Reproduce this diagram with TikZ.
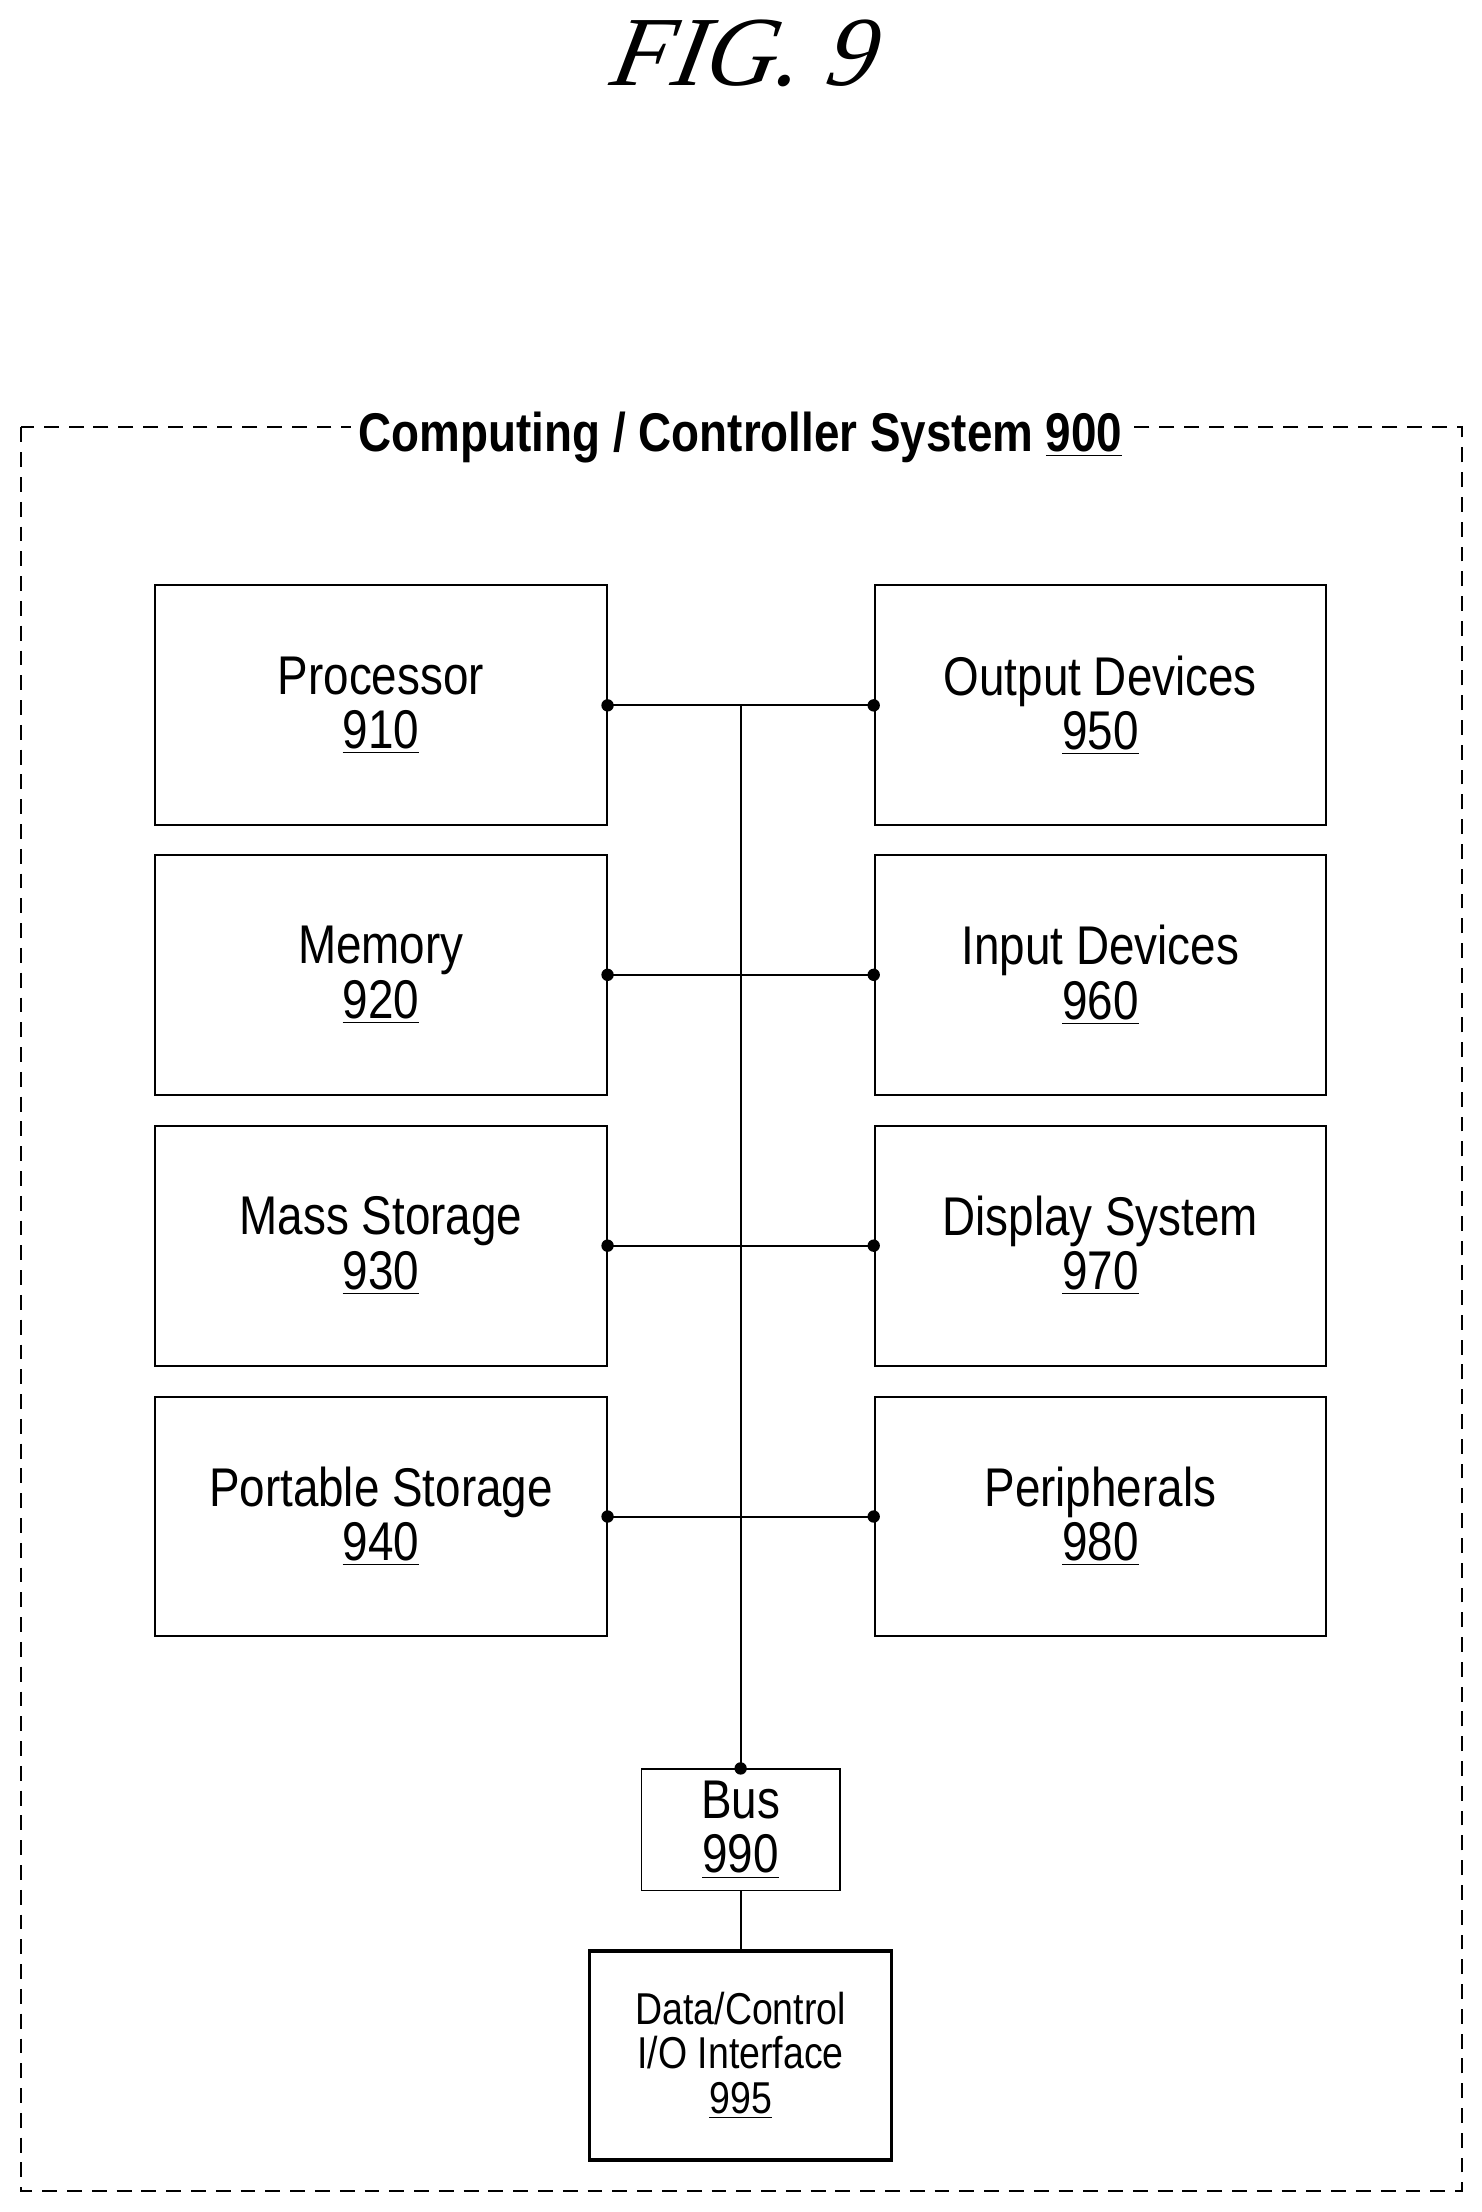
\documentclass[tikz,border=0pt]{standalone}
\usepackage{fontspec}
\setmainfont{Liberation Sans}[FakeStretch=0.84]
\newfontfamily\figfont{Liberation Serif}[FakeSlant=0.2]
\usetikzlibrary{positioning}
\tikzset{
	unit/.style={draw, line width=0.8pt, minimum width=6.4cm, minimum height=3.4cm, align=center, font=\fontsize{22}{24}\selectfont},
	dot/.style={circle, fill, inner sep=0pt, minimum size=5pt},
}
\newcommand{\refnum}[1]{\underline{#1}}
\begin{document}
\begin{tikzpicture}[x=0.02cm, y=-0.02cm, line width=0.8pt]
		\useasboundingbox (0,0) rectangle (1050,1568);
		\node (fig) at (525,38) {\figfont\itshape\fontsize{40}{40}\selectfont FIG. 9};
		% frame
		\draw[dashed, dash pattern=on 6pt off 4pt] (15,303) rectangle (1036,1553);
		\node[fill=white, font=\bfseries\fontsize{22}{24}\selectfont] (sys) at (525,310) {Computing / Controller System \refnum{900}};
		% left column
		\node[unit] (proc) at (270,500) {Processor\\[-2pt]\refnum{910}};
		\node[unit] (mem) at (270,691) {Memory\\[-2pt]\refnum{920}};
		\node[unit] (mass) at (270,883) {Mass Storage\\[-2pt]\refnum{930}};
		\node[unit] (port) at (270,1075) {Portable Storage\\[-2pt]\refnum{940}};
		% right column
		\node[unit] (out) at (780,500) {Output Devices\\[-2pt]\refnum{950}};
		\node[unit] (inp) at (780,691) {Input Devices\\[-2pt]\refnum{960}};
		\node[unit] (disp) at (780,883) {Display System\\[-2pt]\refnum{970}};
		\node[unit] (peri) at (780,1075) {Peripherals\\[-2pt]\refnum{980}};
		% bus
		\node[draw, line width=0.5pt, minimum width=2.82cm, minimum height=1.72cm, align=center, font=\fontsize{22}{22}\selectfont] (bus) at (525,1297) {Bus\\\refnum{990}};
		\node[draw, line width=1.4pt, minimum width=4.28cm, minimum height=2.96cm, align=center, font=\fontsize{18}{18}\selectfont] (io) at (525,1457) {Data/Control\\I/O Interface\\\refnum{995}};
		\coordinate (top) at (525,500);
		\draw (top) -- (bus.north);
		\draw (bus) -- (io);
		\node[dot] at (bus.north) {};
		\foreach \l/\r in {proc/out, mem/inp, mass/disp, port/peri} {
			\draw (\l.east) -- (\r.west);
			\node[dot] at (\l.east) {};
			\node[dot] at (\r.west) {};
		}
\end{tikzpicture}
\end{document}
